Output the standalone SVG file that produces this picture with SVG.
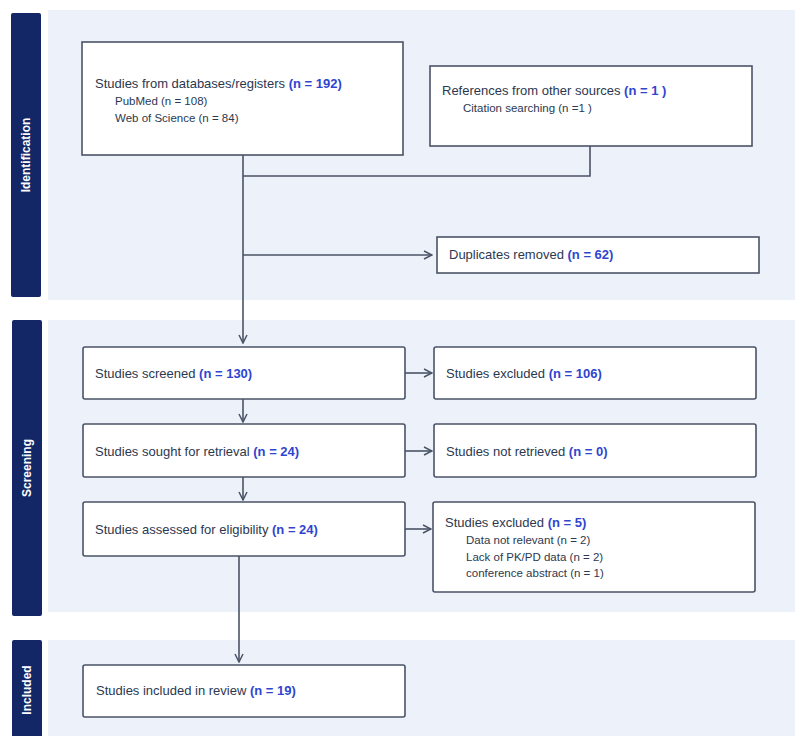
<svg xmlns="http://www.w3.org/2000/svg" width="795" height="736" viewBox="0 0 795 736">
<defs>
<style>
.panel{fill:#edf2fa;}
.side{fill:#132766;}
.sidet{fill:#ffffff;font-family:"Liberation Sans",Arial,sans-serif;font-size:12px;font-weight:bold;text-anchor:middle;}
.box{fill:#ffffff;stroke:#4a5366;stroke-width:1.6;}
.t{fill:#2c3850;font-family:"Liberation Sans",Arial,sans-serif;font-size:13px;}
.s{fill:#2c3850;font-family:"Liberation Sans",Arial,sans-serif;font-size:11.5px;}
.n{fill:#2f45d0;font-weight:bold;}
.ln{fill:none;stroke:#4a5366;stroke-width:1.6;}
</style>
<marker id="ah" viewBox="0 0 10 10" refX="9" refY="5" markerWidth="10" markerHeight="10" markerUnits="userSpaceOnUse" orient="auto">
<path d="M1,1 L9,5 L1,9" fill="none" stroke="#4a5366" stroke-width="1.5"/>
</marker>
</defs>
<rect width="795" height="736" fill="#ffffff"/>
<g id="panels">
<rect class="panel" x="48" y="10" width="747" height="290"/>
<rect class="panel" x="48" y="320" width="747" height="292"/>
<rect class="panel" x="48" y="640" width="747" height="96"/>
</g>
<g id="phase-identification">
<rect class="side" x="11" y="13" width="30" height="284" rx="2"/>
<text class="sidet" transform="translate(30,155) rotate(-90)">Identification</text>
</g>
<g id="phase-screening">
<rect class="side" x="12" y="320" width="30" height="296" rx="2"/>
<text class="sidet" transform="translate(31,468) rotate(-90)">Screening</text>
</g>
<g id="phase-included">
<rect class="side" x="12" y="640" width="30" height="100" rx="2"/>
<text class="sidet" transform="translate(31,690) rotate(-90)">Included</text>
</g>
<g id="connectors">
<path class="ln" d="M243,155 V343" marker-end="url(#ah)"/>
<path class="ln" d="M243,176 H590 V146"/>
<path class="ln" d="M243,255 H432" marker-end="url(#ah)"/>
<path class="ln" d="M243,399 V422" marker-end="url(#ah)"/>
<path class="ln" d="M243,477 V500" marker-end="url(#ah)"/>
<path class="ln" d="M239,556 V662" marker-end="url(#ah)"/>
<path class="ln" d="M405,373 H432" marker-end="url(#ah)"/>
<path class="ln" d="M405,451 H432" marker-end="url(#ah)"/>
<path class="ln" d="M405,529 H431" marker-end="url(#ah)"/>
</g>
<g id="node-databases">
<rect class="box" x="82" y="42" width="321" height="113"/>
<text class="t" x="95" y="88">Studies from databases/registers <tspan class="n">(n = 192)</tspan></text>
<text class="s" x="115" y="105">PubMed (n = 108)</text>
<text class="s" x="115" y="122">Web of Science (n = 84)</text>
</g>
<g id="node-other">
<rect class="box" x="430" y="66" width="322" height="80"/>
<text class="t" x="442" y="95">References from other sources <tspan class="n">(n = 1 )</tspan></text>
<text class="s" x="463" y="112">Citation searching (n =1 )</text>
</g>
<g id="node-duplicates">
<rect class="box" x="437" y="237" width="322" height="36"/>
<text class="t" x="449" y="259">Duplicates removed <tspan class="n">(n = 62)</tspan></text>
</g>
<g id="node-screened">
<rect class="box" x="83" y="347" width="322" height="52" rx="2"/>
<text class="t" x="95" y="378">Studies screened <tspan class="n">(n = 130)</tspan></text>
</g>
<g id="node-excluded1">
<rect class="box" x="434" y="347" width="322" height="52" rx="2"/>
<text class="t" x="446" y="378">Studies excluded <tspan class="n">(n = 106)</tspan></text>
</g>
<g id="node-sought">
<rect class="box" x="83" y="424" width="322" height="53" rx="2"/>
<text class="t" x="95" y="456">Studies sought for retrieval <tspan class="n">(n = 24)</tspan></text>
</g>
<g id="node-notretrieved">
<rect class="box" x="434" y="424" width="322" height="53" rx="2"/>
<text class="t" x="446" y="456">Studies not retrieved <tspan class="n">(n = 0)</tspan></text>
</g>
<g id="node-assessed">
<rect class="box" x="83" y="502" width="322" height="54" rx="2"/>
<text class="t" x="95" y="534">Studies assessed for eligibility <tspan class="n">(n = 24)</tspan></text>
</g>
<g id="node-excluded2">
<rect class="box" x="433" y="502" width="322" height="90" rx="2"/>
<text class="t" x="445" y="527">Studies excluded <tspan class="n">(n = 5)</tspan></text>
<text class="s" x="466" y="544">Data not relevant (n = 2)</text>
<text class="s" x="466" y="561">Lack of PK/PD data (n = 2)</text>
<text class="s" x="466" y="577">conference abstract (n = 1)</text>
</g>
<g id="node-included">
<rect class="box" x="83" y="665" width="322" height="52" rx="2"/>
<text class="t" x="96" y="695">Studies included in review <tspan class="n">(n = 19)</tspan></text>
</g>
</svg>
